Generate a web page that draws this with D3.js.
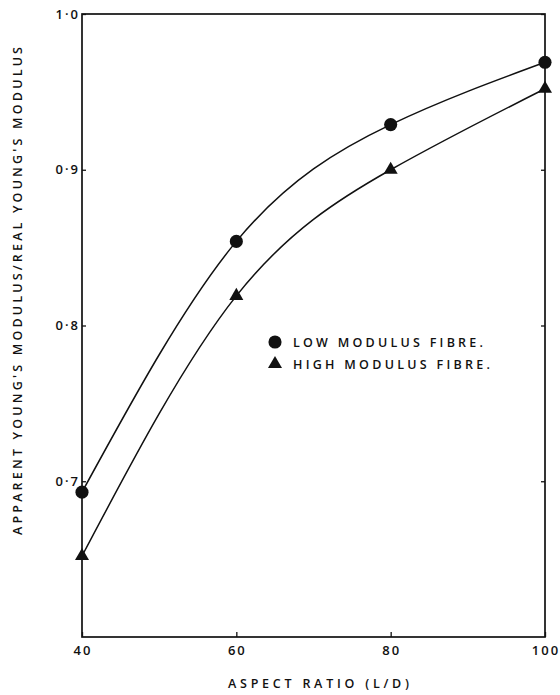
<!DOCTYPE html>
<html>
<head>
<meta charset="utf-8">
<script src="https://cdn.jsdelivr.net/npm/d3@7"></script>
<style>
  html, body { margin: 0; padding: 0; background: #fff; }
  svg { display: block; }
  text { font-family: "Open Sans", "DejaVu Sans", sans-serif; font-weight: 600; fill: #111; }
</style>
</head>
<body>
<svg id="chart" width="560" height="695"></svg>
<script>
// Aspect ratio of the fibres (L/D)
const aspectRatios = [40, 60, 80, 100];
// Apparent / real Young's modulus
const lowModulus = [0.693, 0.854, 0.929, 0.969];
const highModulus = [0.652, 0.819, 0.900, 0.952];
// Axis ticks and labels
const xTicks = [40, 60, 80, 100];
const yTicks = [0.7, 0.8, 0.9, 1.0];
const yTickLabels = ["0·7", "0·8", "0·9", "1·0"];
const seriesNames = ["LOW MODULUS FIBRE.", "HIGH MODULUS FIBRE."];

const svg = d3.select("#chart");
const plotLeft = 82, plotRight = 545, plotTop = 14, plotBottom = 637;

const x = d3.scaleLinear().domain([40, 100]).range([plotLeft, plotRight]);
const y = d3.scaleLinear().domain([0.6, 1.0]).range([plotBottom, plotTop]);

const ink = "#111";

// Frame
svg.append("rect")
  .attr("x", plotLeft).attr("y", plotTop)
  .attr("width", plotRight - plotLeft).attr("height", plotBottom - plotTop)
  .attr("fill", "none").attr("stroke", ink).attr("stroke-width", 1.7);

// Ticks point inward
const gx = svg.append("g").attr("transform", `translate(0,${plotBottom})`)
  .call(d3.axisTop(x).tickValues(xTicks).tickSize(5).tickFormat(""));
const gy = svg.append("g").attr("transform", `translate(${plotLeft},0)`)
  .call(d3.axisRight(y).tickValues(yTicks).tickSize(4).tickFormat(""));
const gyr = svg.append("g").attr("transform", `translate(${plotRight},0)`)
  .call(d3.axisLeft(y).tickValues(yTicks).tickSize(4).tickFormat(""));
[gx, gy, gyr].forEach(g => {
  g.select(".domain").remove();
  g.selectAll("line").attr("stroke", ink).attr("stroke-width", 1.3);
});

// Tick labels
svg.append("g").selectAll("text").data(xTicks).join("text")
  .attr("x", d => x(d) + 1).attr("y", 655)
  .attr("text-anchor", "middle")
  .attr("font-size", 13).attr("letter-spacing", 2)
  .text(d => d);

svg.append("g").selectAll("text").data(yTicks).join("text")
  .attr("x", 80).attr("y", d => y(d) + 4.5)
  .attr("text-anchor", "end")
  .attr("font-size", 13).attr("letter-spacing", 2)
  .text((d, i) => yTickLabels[i]);

// Axis titles
svg.append("text")
  .attr("x", 228).attr("y", 688)
  .attr("font-size", 12.5)
  .attr("textLength", 181).attr("lengthAdjust", "spacing")
  .text("ASPECT RATIO (L/D)");

svg.append("text")
  .attr("transform", "translate(22,535) rotate(-90)")
  .attr("font-size", 12.5)
  .attr("textLength", 488).attr("lengthAdjust", "spacing")
  .text("APPARENT YOUNG'S MODULUS/REAL YOUNG'S MODULUS");

// Curves
const line = d3.line()
  .x(d => x(d[0])).y(d => y(d[1]))
  .curve(d3.curveNatural);

const lowPts = aspectRatios.map((a, i) => [a, lowModulus[i]]);
const highPts = aspectRatios.map((a, i) => [a, highModulus[i]]);

[lowPts, highPts].forEach(pts => {
  svg.append("path").datum(pts)
    .attr("d", line)
    .attr("fill", "none").attr("stroke", ink).attr("stroke-width", 1.5);
});

// Markers
const circleSym = d3.symbol().type(d3.symbolCircle).size(135);
const triSym = d3.symbol().type(d3.symbolTriangle).size(85);

svg.append("g").selectAll("path").data(lowPts).join("path")
  .attr("transform", d => `translate(${x(d[0])},${y(d[1])})`)
  .attr("d", circleSym).attr("fill", ink);

svg.append("g").selectAll("path").data(highPts).join("path")
  .attr("transform", d => `translate(${x(d[0])},${y(d[1])})`)
  .attr("d", triSym).attr("fill", ink);

// Legend
const lg = svg.append("g");
lg.append("path").attr("transform", "translate(275,342)").attr("d", circleSym).attr("fill", ink);
lg.append("path").attr("transform", "translate(275,364)").attr("d", triSym).attr("fill", ink);
lg.append("text").attr("x", 293).attr("y", 347)
  .attr("font-size", 12.5).attr("textLength", 190).attr("lengthAdjust", "spacing")
  .text(seriesNames[0]);
lg.append("text").attr("x", 293).attr("y", 369)
  .attr("font-size", 12.5).attr("textLength", 197).attr("lengthAdjust", "spacing")
  .text(seriesNames[1]);
</script>
</body>
</html>
